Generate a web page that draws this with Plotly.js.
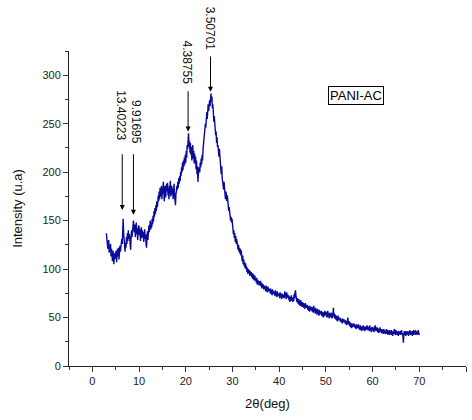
<!DOCTYPE html>
<html>
<head>
<meta charset="utf-8">
<script src="https://cdn.plot.ly/plotly-3.0.1.min.js"></script>
<style>html,body{margin:0;padding:0;background:#fff;}#chart{width:472px;height:420px;}</style>
</head>
<body>
<div id="chart"></div>
<script>
// 2θ sampling: start and step (degrees)
const twoThetaStart = 3.0;
const twoThetaStep = 0.1;
// Intensity values, 10 samples per degree (3.0 .. 70.0)
const intensity = [
137,128,133,121,126,130,117,124,119,126,
113,121,116,108,119,111,105,116,110,117,
112,119,107,116,121,113,122,110,118,124,
118,127,122,131,126,138,152,137,124,130,
118,127,122,133,126,137,129,140,131,136,
132,124,120,134,140,133,145,139,150,141,
138,146,133,142,148,136,142,130,139,145,
144,135,141,129,137,143,132,140,134,138,
128,137,141,131,136,126,122,133,139,130,
136,145,138,142,150,141,147,143,152,146,
155,149,160,154,163,157,166,160,170,164,
168,176,170,180,172,184,175,178,186,172,
184,178,190,176,170,182,186,174,181,188,
180,189,176,183,172,186,178,191,175,182,
186,177,183,172,180,188,176,170,166,178,
180,186,182,190,184,194,188,196,191,200,
196,205,200,210,202,212,206,215,208,218,
210,222,215,228,224,233,240,226,232,220,
230,218,226,212,224,228,214,222,209,219,
210,216,203,212,198,206,190,198,205,201,
200,210,205,214,208,218,212,224,229,234,
236,243,250,246,258,262,255,266,270,263,
270,274,268,277,281,273,278,266,270,262,
252,258,244,248,238,242,230,236,226,228,
222,216,224,210,214,204,198,206,194,190,
188,182,190,178,184,172,180,174,170,176,
166,170,160,164,156,159,150,154,148,152,
142,146,136,140,132,137,128,134,126,131,
124,128,120,125,118,122,116,121,114,119,
112,108,114,105,110,103,107,101,106,100,
103,97,101,95,100,96,99,93,98,94,
97,92,96,90,95,89,94,88,93,90,
90,86,91,84,89,85,88,83,87,84,
88,82,86,80,85,81,84,79,83,80,
82,77,83,78,81,76,82,77,80,78,
79,75,80,74,78,73,79,75,77,74,
77,72,78,73,76,71,77,72,75,73,
75,70,76,72,74,69,75,71,73,70,
74,70,77,72,75,69,76,71,74,70,
73,68,72,66,71,67,73,68,70,66,
71,67,74,70,76,78,72,69,66,70,
68,64,69,63,67,62,68,64,66,61,
66,61,65,60,64,59,65,61,63,60,
63,58,62,57,61,56,62,58,60,57,
61,56,60,55,62,57,59,54,60,56,
58,53,59,54,57,52,58,53,56,54,
57,52,56,51,55,50,56,52,57,53,
56,51,55,50,57,52,54,49,55,51,
54,50,55,49,53,50,60,52,54,49,
53,48,52,47,51,46,52,48,50,47,
50,46,49,45,48,44,49,45,48,46,
48,44,47,43,46,42,47,50,45,43,
46,41,45,40,44,39,44,40,43,41,
44,40,43,39,42,38,43,39,42,40,
43,38,41,37,42,37,40,36,41,38,
42,37,40,36,41,37,40,38,42,37,
41,37,40,36,42,37,39,35,40,37,
40,36,39,35,41,36,42,37,39,36,
40,35,39,34,38,35,40,36,38,34,
38,34,37,33,38,34,37,33,36,34,
38,33,37,32,36,33,37,32,36,34,
37,32,36,31,35,33,37,38,34,32,
37,33,36,32,35,31,36,33,35,32,
36,33,37,32,34,31,24,33,36,32,
36,31,35,32,36,33,35,31,36,33,
37,32,36,33,35,31,36,32,37,33,
36,32,37,33,35,32,36,33,37,32,
34
];
const twoTheta = intensity.map((_, i) => +(twoThetaStart + i * twoThetaStep).toFixed(2));

// Peak labels (d-spacings), their 2θ positions, arrow tip and tail intensities
const peakLabels = ["13.40223", "9.91695", "4.38755", "3.50701"];
const peakX = [6.4, 8.8, 20.5, 25.3];
const peakTipY = [161, 156, 242, 283];
const peakTailY = [220, 220, 285, 321];
const peakTextX = [6.1, 9.5, 20.3, 25.2];
// label centres as a fraction of the plot height
const peakTextYFrac = [259 / 325, 252 / 325, 313 / 325, 348 / 325];

const xTickVals = [0, 10, 20, 30, 40, 50, 60, 70, 80];
const yTickVals = [0, 50, 100, 150, 200, 250, 300];

const font = "Liberation Sans, Arial, sans-serif";
const annotations = [];
for (let i = 0; i < peakLabels.length; i++) {
  annotations.push({
    x: peakX[i], y: peakTipY[i], xref: 'x', yref: 'y',
    ax: peakX[i], ay: peakTailY[i], axref: 'x', ayref: 'y',
    text: '', showarrow: true, arrowhead: 2, arrowsize: 1, arrowwidth: 1, arrowcolor: '#000'
  });
  annotations.push({
    x: peakTextX[i], y: peakTextYFrac[i], xref: 'x', yref: 'paper',
    xanchor: 'center', yanchor: 'middle',
    text: peakLabels[i], showarrow: false, textangle: 90,
    font: {family: font, size: 12, color: '#111'}
  });
}
annotations.push({
  x: 56.5, y: 279, xref: 'x', yref: 'y', xanchor: 'center', yanchor: 'middle',
  text: 'PANI-AC', showarrow: false,
  bordercolor: '#000', borderwidth: 1, borderpad: 1,
  font: {family: font, size: 13, color: '#000'}
});

const trace = {
  x: twoTheta, y: intensity, type: 'scatter', mode: 'lines',
  line: {color: '#0a0a9a', width: 1.4}, hoverinfo: 'skip'
};

const layout = {
  width: 472, height: 420,
  margin: {l: 69, r: 6, t: 51, b: 54},
  paper_bgcolor: '#fff', plot_bgcolor: '#fff',
  showlegend: false,
  font: {family: font, size: 11, color: '#222'},
  xaxis: {
    range: [-5, 80], tickvals: xTickVals, ticks: 'outside', ticklen: 5, tickwidth: 1,
    tickcolor: '#333', showline: true, linecolor: '#222', linewidth: 1, showgrid: false, zeroline: false,
    minor: {dtick: 5, tick0: 0, ticks: 'outside', ticklen: 3, tickcolor: '#333', showgrid: false},
    title: {text: '2θ(deg)', font: {family: font, size: 13, color: '#111'}, standoff: 12},
    tickfont: {family: font, size: 11, color: '#222'}
  },
  yaxis: {
    range: [0, 325], tickvals: yTickVals, ticks: 'outside', ticklen: 5, tickwidth: 1,
    tickcolor: '#333', showline: true, linecolor: '#222', linewidth: 1, showgrid: false, zeroline: false,
    minor: {dtick: 25, tick0: 0, ticks: 'outside', ticklen: 3, tickcolor: '#333', showgrid: false},
    title: {text: 'Intensity (u.a)', font: {family: font, size: 13, color: '#111'}, standoff: 16},
    tickfont: {family: font, size: 11, color: '#222'}
  },
  annotations: annotations
};

Plotly.newPlot('chart', [trace], layout, {displayModeBar: false, staticPlot: true});
</script>
</body>
</html>
